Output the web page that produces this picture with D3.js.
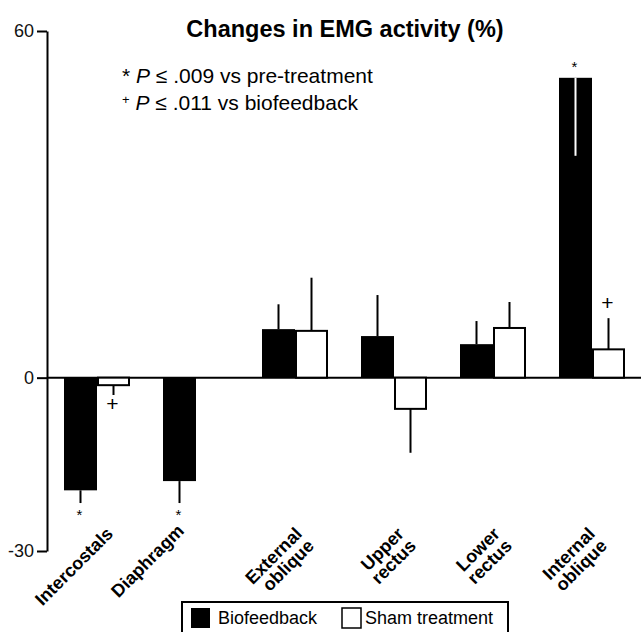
<!DOCTYPE html>
<html><head><meta charset="utf-8">
<script src="https://cdn.jsdelivr.net/npm/d3@7"></script>
<style>
html,body{margin:0;padding:0;background:#fff;}
svg{display:block;font-family:"Liberation Sans",Arial,Helvetica,sans-serif;}
</style></head>
<body>
<svg id="chart" width="641" height="632"></svg>
<script>
// ---- data ----
const categories = ["Intercostals","Diaphragm","External oblique","Upper rectus","Lower rectus","Internal oblique"];
const labelLines = [["Intercostals"],["Diaphragm"],["External","oblique"],["Upper","rectus"],["Lower","rectus"],["Internal","oblique"]];
const seriesNames = ["Biofeedback","Sham treatment"];
const biofeedback = [-19.5, -17.9, 8.4, 7.2, 5.8, 51.9];
const biofeedbackSE = [2.2, 3.8, 4.3, 7.1, 4.0, -13.5]; // negative: drawn inward
const sham = [-1.3, null, 8.1, -5.4, 8.6, 4.9];
const shamSE = [1.7, null, 9.2, 7.6, 4.5, 5.4];
const bioSig = [true, true, false, false, false, true];   // * vs pre-treatment
const shamSig = [true, false, false, false, false, true]; // + vs biofeedback
const yTicks = [-30, 0, 60];
const title = "Changes in EMG activity (%)";

// ---- layout ----
const svg = d3.select("#chart");
const x = d3.scaleBand().domain(categories).range([64, 625]).paddingInner(1/3).paddingOuter(0);
const xs = d3.scaleBand().domain(seriesNames).range([0, x.bandwidth()]);
const y = d3.scaleLinear().domain([-30, 60]).range([551, 31]);

const rows = categories.map((c, i) => [
  {cat: c, s: seriesNames[0], v: biofeedback[i], se: biofeedbackSE[i], sig: bioSig[i], mark: "*", fill: "#000"},
  {cat: c, s: seriesNames[1], v: sham[i], se: shamSE[i], sig: shamSig[i], mark: "+", fill: "#fff"}
]).flat().filter(d => d.v !== null);

// zero line
svg.append("line").attr("x1", 47).attr("x2", 641).attr("y1", y(0)).attr("y2", y(0))
  .attr("stroke", "#000").attr("stroke-width", 2);

// bars
const g = svg.append("g");
g.selectAll("rect").data(rows).join("rect")
  .attr("x", d => x(d.cat) + xs(d.s) + (d.fill === "#fff" ? 1 : 0))
  .attr("width", d => xs.bandwidth() - (d.fill === "#fff" ? 2 : 0))
  .attr("y", d => Math.min(y(d.v), y(0)))
  .attr("height", d => Math.abs(y(d.v) - y(0)))
  .attr("fill", d => d.fill)
  .attr("stroke", "#000").attr("stroke-width", d => d.fill === "#fff" ? 2 : 0);

// error bars
g.selectAll("line.err").data(rows).join("line").attr("class", "err")
  .attr("x1", d => x(d.cat) + xs(d.s) + xs.bandwidth() / 2)
  .attr("x2", d => x(d.cat) + xs(d.s) + xs.bandwidth() / 2)
  .attr("y1", d => y(d.v))
  .attr("y2", d => y(d.v + Math.sign(d.v) * d.se))
  .attr("stroke", d => d.se < 0 ? "#fff" : "#000").attr("stroke-width", 2);

// significance marks
g.selectAll("text.sig").data(rows.filter(d => d.sig)).join("text").attr("class", "sig")
  .attr("x", d => x(d.cat) + xs(d.s) + xs.bandwidth() / 2 + (d.mark === "+" ? -1 : -1))
  .attr("y", d => {
    const far = d.se > 0 ? d.v + Math.sign(d.v) * d.se : d.v;
    return d.v < 0 ? y(far) + (d.mark === "*" ? 17 : 16) : y(far) - (d.mark === "*" ? 6 : 8);
  })
  .attr("text-anchor", "middle")
  .attr("font-size", d => d.mark === "*" ? 15 : 21)
  .text(d => d.mark);

// y axis
const yAxis = d3.axisLeft(y).tickValues(yTicks).tickSize(10).tickSizeOuter(0).tickPadding(3)
  .tickFormat(d => String(d));
const ax = svg.append("g").attr("transform", "translate(47,0)").call(yAxis);
ax.select(".domain").attr("stroke-width", 2);
ax.selectAll(".tick line").attr("stroke-width", 2);
ax.selectAll(".tick text").attr("font-size", 18).attr("fill", "#111")
  .attr("font-family", "Liberation Sans, Arial, sans-serif");

// x labels
const labelDx = [17, -11, 8, 11, 8, 4];
const lab = svg.append("g");
categories.forEach((c, i) => {
  const t = lab.append("text")
    .attr("transform", `translate(${x(c) + x.bandwidth() / 2 + labelDx[i]},${i === 1 ? 532 : 535}) rotate(-45)`)
    .attr("text-anchor", "end").attr("font-weight", "bold").attr("font-size", 18);
  labelLines[i].forEach((ln, j) => {
    t.append("tspan").attr("x", 0).attr("y", j * 17).text(ln);
  });
});

// title
svg.append("text").attr("x", 345).attr("y", 37).attr("text-anchor", "middle")
  .attr("font-weight", "bold").attr("font-size", 23.5).text(title);

// annotations
const ann = svg.append("g").attr("font-size", 21);
const a1 = ann.append("text").attr("x", 122).attr("y", 83);
a1.append("tspan").text("* ");
a1.append("tspan").attr("font-style", "italic").text("P");
a1.append("tspan").text(" \u2264 .009 vs pre-treatment");
const a2 = ann.append("text").attr("x", 122).attr("y", 110);
a2.append("tspan").attr("font-size", 13).attr("dy", -6).text("+");
a2.append("tspan").attr("dy", 6).text(" ");
a2.append("tspan").attr("font-style", "italic").text("P");
a2.append("tspan").text(" \u2264 .011 vs biofeedback");

// legend
const leg = svg.append("g");
leg.append("rect").attr("x", 182).attr("y", 602).attr("width", 326).attr("height", 40)
  .attr("fill", "#fff").attr("stroke", "#000").attr("stroke-width", 2);
const legItems = [{name: seriesNames[0], fill: "#000", x: 191, tx: 218}, {name: seriesNames[1], fill: "#fff", x: 342, tx: 365}];
legItems.forEach(it => {
  leg.append("rect").attr("x", it.x).attr("y", 608).attr("width", 19).attr("height", 20)
    .attr("fill", it.fill).attr("stroke", "#000").attr("stroke-width", it.fill === "#fff" ? 1.5 : 0);
  leg.append("text").attr("x", it.tx).attr("y", 624).attr("font-size", 18).text(it.name);
});
</script>
</body></html>
